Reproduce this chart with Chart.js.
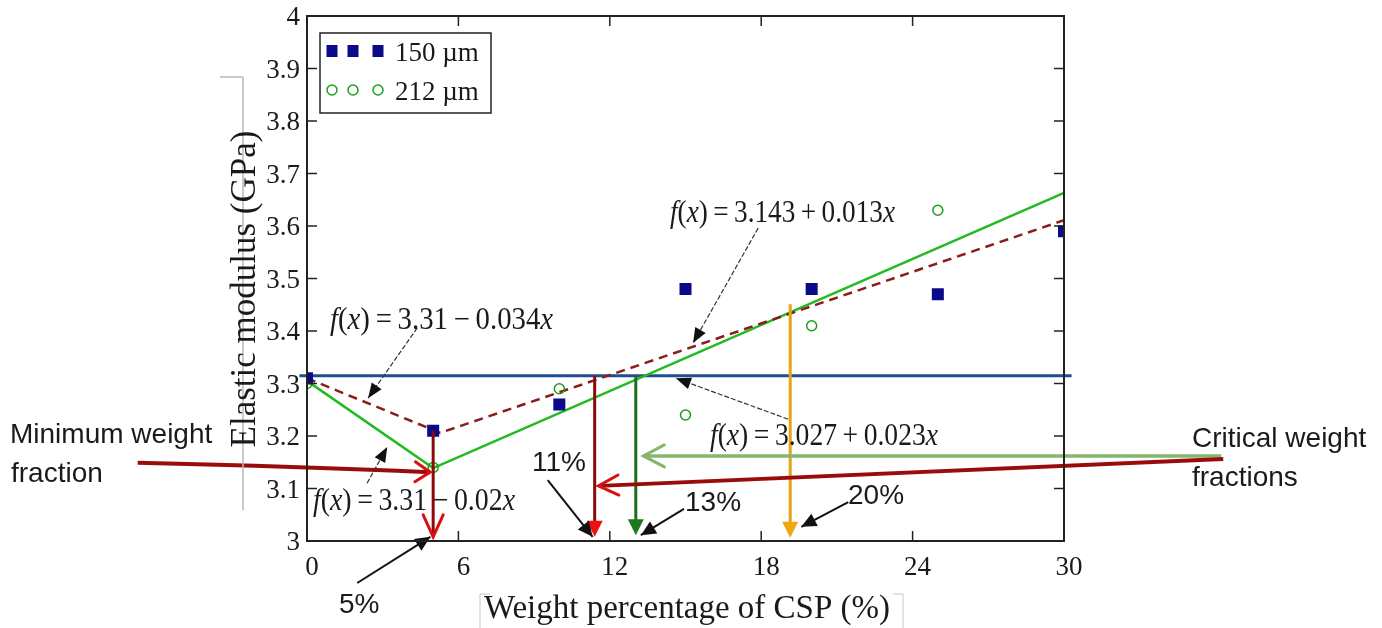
<!DOCTYPE html>
<html>
<head>
<meta charset="utf-8">
<script src="https://cdn.jsdelivr.net/npm/chart.js@4.4.1/dist/chart.umd.min.js"></script>
<style>
html, body { margin: 0; padding: 0; background: #fff; }
#wrap { width: 1382px; height: 628px; }
</style>
</head>
<body>
<div id="wrap"><canvas id="myChart" width="1382" height="628"></canvas></div>
<script>
// weight percentage of CSP and measured elastic modulus (GPa)
const weightPct150 = [0, 5, 10, 15, 20, 25, 30];
const modulus150 = [3.31, 3.21, 3.26, 3.48, 3.48, 3.47, 3.59];
const weightPct212 = [0, 5, 10, 15, 20, 25];
const modulus212 = [3.30, 3.14, 3.29, 3.24, 3.41, 3.63];

// piecewise linear fits
const fit150X = [0, 5.28, 30];
const fit150Y = [3.31, 3.206, 3.611];
const fit212X = [0, 5, 30];
const fit212Y = [3.305, 3.139, 3.663];

// neat matrix modulus level
const neatX = [-0.3, 30.3];
const neatY = [3.315, 3.315];

// weight fractions marked by drop arrows (5%, 11%, 13%, 20%)
const dropX = [5, 11.4, 13.03, 19.15];
const dropTop = [3.21, 3.315, 3.315, 3.451];

const xTicks = [0, 6, 12, 18, 24, 30];
const xTickLabels = ['0', '6', '12', '18', '24', '30'];
const yTicks = [3, 3.1, 3.2, 3.3, 3.4, 3.5, 3.6, 3.7, 3.8, 3.9, 4];
const yTickLabels = ['3', '3.1', '3.2', '3.3', '3.4', '3.5', '3.6', '3.7', '3.8', '3.9', '4'];

const SERIF = '"Liberation Serif", "Times New Roman", serif';
const SANS = '"Liberation Sans", Arial, sans-serif';

function toPoints(xs, ys) {
    return xs.map((x, i) => ({ x: x, y: ys[i] }));
}

function seg(ctx, x1, y1, x2, y2, color, width, dash) {
    ctx.save();
    ctx.strokeStyle = color;
    ctx.lineWidth = width;
    ctx.setLineDash(dash || []);
    ctx.beginPath();
    ctx.moveTo(x1, y1);
    ctx.lineTo(x2, y2);
    ctx.stroke();
    ctx.restore();
}

// open "V" arrow head at (tx, ty), pointing away from (fx, fy)
function openHead(ctx, tx, ty, fx, fy, len, half, color, width) {
    const a = Math.atan2(ty - fy, tx - fx);
    const bx = tx - len * Math.cos(a), by = ty - len * Math.sin(a);
    const nx = -Math.sin(a) * half, ny = Math.cos(a) * half;
    ctx.save();
    ctx.strokeStyle = color;
    ctx.lineWidth = width;
    ctx.lineCap = 'round';
    ctx.beginPath();
    ctx.moveTo(bx + nx, by + ny);
    ctx.lineTo(tx, ty);
    ctx.lineTo(bx - nx, by - ny);
    ctx.stroke();
    ctx.restore();
}

function filledHead(ctx, tx, ty, fx, fy, len, half, color) {
    const a = Math.atan2(ty - fy, tx - fx);
    const bx = tx - len * Math.cos(a), by = ty - len * Math.sin(a);
    const nx = -Math.sin(a) * half, ny = Math.cos(a) * half;
    ctx.save();
    ctx.fillStyle = color;
    ctx.beginPath();
    ctx.moveTo(tx, ty);
    ctx.lineTo(bx + nx, by + ny);
    ctx.lineTo(bx - nx, by - ny);
    ctx.closePath();
    ctx.fill();
    ctx.restore();
}

// f(x) = ... with italic f and x, squeezed to a given width
function drawFx(ctx, x, y, rest, size, width) {
    const parts = [['f', 'italic '], ['(', ''], ['x', 'italic '], [')', ''], ['\u2009=\u2009' + rest, ''], ['x', 'italic ']];
    let total = 0;
    parts.forEach(([t, st]) => {
        ctx.font = st + size + 'px ' + SERIF;
        total += ctx.measureText(t).width;
    });
    ctx.save();
    ctx.translate(x, y);
    ctx.scale(width / total, 1);
    ctx.fillStyle = '#1a1a1a';
    ctx.textAlign = 'left';
    ctx.textBaseline = 'alphabetic';
    let cx = 0;
    parts.forEach(([t, st]) => {
        ctx.font = st + size + 'px ' + SERIF;
        ctx.fillText(t, cx, 0);
        cx += ctx.measureText(t).width;
    });
    ctx.restore();
}

function text(ctx, str, x, y, font, align, color) {
    ctx.save();
    ctx.font = font;
    ctx.fillStyle = color || '#1a1a1a';
    ctx.textAlign = align || 'left';
    ctx.textBaseline = 'alphabetic';
    ctx.fillText(str, x, y);
    ctx.restore();
}

const decorPlugin = {
    id: 'decor',
    afterDatasetsDraw(chart) {
        const ctx = chart.ctx;
        const xs = chart.scales.x, ys = chart.scales.y;
        const X = v => xs.getPixelForValue(v);
        const Y = v => ys.getPixelForValue(v);
        const area = chart.chartArea;

        // drop arrows down to the x axis
        const tipY = Y(3.008);
        // 5%: dark red shaft, open red head
        seg(ctx, X(dropX[0]), Y(dropTop[0]), X(dropX[0]), tipY, '#8b0a0a', 3);
        openHead(ctx, X(dropX[0]), tipY, X(dropX[0]), Y(dropTop[0]), 22, 10, '#d81010', 3);
        // 11%: dark red shaft, filled red head
        seg(ctx, X(dropX[1]), Y(dropTop[1]), X(dropX[1]), tipY - 14, '#8b0a0a', 3);
        filledHead(ctx, X(dropX[1]), tipY, X(dropX[1]), Y(dropTop[1]), 16, 8, '#f01010');
        // 13%: dark green
        seg(ctx, X(dropX[2]), Y(dropTop[2]), X(dropX[2]), tipY - 14, '#1b6e1b', 3);
        filledHead(ctx, X(dropX[2]), Y(3.011), X(dropX[2]), Y(dropTop[2]), 16, 8, '#1b7a1b');
        // 20%: orange
        seg(ctx, X(dropX[3]), Y(dropTop[3]), X(dropX[3]), tipY - 14, '#e8a215', 3);
        filledHead(ctx, X(dropX[3]), Y(3.006), X(dropX[3]), Y(dropTop[3]), 16, 8, '#f0a810');

        // minimum weight fraction arrow
        ctx.save();
        ctx.strokeStyle = '#9a0c0c';
        ctx.lineWidth = 4;
        ctx.beginPath();
        ctx.moveTo(X(-6.71), Y(3.149));
        ctx.quadraticCurveTo(X(-0.3), Y(3.142), X(4.88), Y(3.131));
        ctx.stroke();
        ctx.restore();
        openHead(ctx, X(4.88), Y(3.131), X(2), Y(3.135), 15, 10, '#d81010', 3);

        // critical weight fraction arrows
        seg(ctx, X(36.23), Y(3.162), X(13.4), Y(3.162), '#86b56c', 3.5);
        openHead(ctx, X(13.33), Y(3.162), X(20), Y(3.162), 21, 11, '#86b56c', 3);
        seg(ctx, X(36.31), Y(3.156), X(11.6), Y(3.105), '#9a0c0c', 4);
        openHead(ctx, X(11.55), Y(3.105), X(20), Y(3.122), 20, 10, '#d81010', 3);

        // thin pointers to the fit equations
        const thin = (x1, y1, x2, y2) => {
            seg(ctx, X(x1), Y(y1), X(x2), Y(y2), '#333', 1.2, [5, 2]);
            filledHead(ctx, X(x2), Y(y2), X(x1), Y(y1), 15, 6, '#111');
        };
        thin(4.37, 3.406, 2.42, 3.272);
        thin(2.38, 3.110, 3.18, 3.179);
        thin(17.88, 3.596, 15.30, 3.377);
        thin(19.07, 3.232, 14.62, 3.310);

        // pointers to the percentage labels
        const bold = (x1, y1, x2, y2) => {
            seg(ctx, X(x1), Y(y1), X(x2), Y(y2), '#111', 2);
            filledHead(ctx, X(x2), Y(y2), X(x1), Y(y1), 15, 7, '#111');
        };
        bold(1.99, 2.920, 4.89, 3.008);
        bold(9.54, 3.116, 11.32, 3.008);
        bold(14.94, 3.061, 13.23, 3.011);
        bold(21.45, 3.074, 19.59, 3.027);

        // frame
        ctx.save();
        ctx.strokeStyle = '#222';
        ctx.lineWidth = 2;
        ctx.strokeRect(area.left, area.top, area.right - area.left, area.bottom - area.top);
        ctx.restore();

        // inward ticks on all four sides
        const tl = 10;
        xTicks.forEach(v => {
            const p = X(v);
            seg(ctx, p, area.bottom, p, area.bottom - tl, '#222', 1.5);
            seg(ctx, p, area.top, p, area.top + tl, '#222', 1.5);
        });
        yTicks.forEach(v => {
            const p = Y(v);
            seg(ctx, area.left, p, area.left + tl, p, '#222', 1.5);
            seg(ctx, area.right, p, area.right - tl, p, '#222', 1.5);
        });

        // tick labels
        ctx.save();
        ctx.font = '27px ' + SERIF;
        ctx.fillStyle = '#1a1a1a';
        ctx.textBaseline = 'middle';
        ctx.textAlign = 'center';
        xTicks.forEach((v, i) => ctx.fillText(xTickLabels[i], X(v) + 5, area.bottom + 27));
        ctx.textAlign = 'right';
        yTicks.forEach((v, i) => ctx.fillText(yTickLabels[i], area.left - 7, Y(v) + 2));
        ctx.restore();

        // y axis title with its grey bracket
        seg(ctx, 220, 77, 243, 77, '#b8b8b8', 1.5);
        seg(ctx, 243, 77, 243, 510, '#b8b8b8', 1.5);
        ctx.save();
        ctx.translate(246, 289);
        ctx.rotate(-Math.PI / 2);
        ctx.font = '35px ' + SERIF;
        ctx.fillStyle = '#1a1a1a';
        ctx.textAlign = 'center';
        ctx.textBaseline = 'middle';
        ctx.fillText('Elastic modulus (GPa)', 0, 0);
        ctx.restore();

        // x axis title with its grey box edges
        seg(ctx, 480, 594, 480, 628, '#cfcfcf', 1.2);
        seg(ctx, 480, 594, 490, 594, '#cfcfcf', 1.2);
        seg(ctx, 903, 594, 903, 628, '#cfcfcf', 1.2);
        seg(ctx, 893, 594, 903, 594, '#cfcfcf', 1.2);
        text(ctx, 'Weight percentage of CSP (%)', 687, 618, '33px ' + SERIF, 'center');

        // fit equations
        drawFx(ctx, 330, 329, '3.31\u2009\u2212\u20090.034', 31, 223);
        drawFx(ctx, 313, 510, '3.31\u2009\u2212\u20090.02', 31, 202);
        drawFx(ctx, 670, 222, '3.143\u2009+\u20090.013', 31, 225);
        drawFx(ctx, 710, 445, '3.027\u2009+\u20090.023', 31, 228);

        // percentage labels
        const pf = '28px ' + SANS;
        text(ctx, '5%', 339, 613, pf);
        text(ctx, '11%', 532, 471, pf);
        text(ctx, '13%', 685, 511, pf);
        text(ctx, '20%', 848, 504, pf);

        // side notes
        const nf = '28px ' + SANS;
        text(ctx, 'Minimum weight', 10, 443, nf);
        text(ctx, 'fraction', 11, 482, nf);
        text(ctx, 'Critical weight', 1192, 447, nf);
        text(ctx, 'fractions', 1192, 486, nf);

        // legend
        const lx = area.left + 13, ly = area.top + 17;
        ctx.save();
        ctx.fillStyle = '#fff';
        ctx.fillRect(lx, ly, 171, 80);
        ctx.strokeStyle = '#222';
        ctx.lineWidth = 1.5;
        ctx.strokeRect(lx, ly, 171, 80);
        [12, 33, 58].forEach(dx => {
            ctx.fillStyle = '#0b0b8a';
            ctx.fillRect(lx + dx - 5.5, ly + 12, 11, 12);
            ctx.strokeStyle = '#1e9e1e';
            ctx.lineWidth = 1.5;
            ctx.beginPath();
            ctx.arc(lx + dx, ly + 57, 5, 0, Math.PI * 2);
            ctx.stroke();
        });
        ctx.restore();
        text(ctx, '150 \u00b5m', lx + 75, ly + 28, '27px ' + SERIF);
        text(ctx, '212 \u00b5m', lx + 75, ly + 67, '27px ' + SERIF);
    }
};

const ctx = document.getElementById('myChart').getContext('2d');
window.myChartInstance = new Chart(ctx, {
    type: 'scatter',
    data: {
        datasets: [
            {
                label: '150 \u00b5m',
                data: toPoints(weightPct150, modulus150),
                pointStyle: 'rect',
                pointRadius: 8.5,
                backgroundColor: '#0b0b8a',
                borderColor: '#0b0b8a',
                borderWidth: 0,
                clip: 0
            },
            {
                label: '212 \u00b5m',
                data: toPoints(weightPct212, modulus212),
                pointStyle: 'circle',
                pointRadius: 5,
                backgroundColor: 'rgba(0,0,0,0)',
                borderColor: '#1e9e1e',
                borderWidth: 1.5,
                clip: 0
            },
            {
                label: 'fit 150',
                data: toPoints(fit150X, fit150Y),
                showLine: true,
                pointRadius: 0,
                borderColor: '#8b1c1c',
                borderWidth: 2.5,
                borderDash: [9, 6],
                clip: 0
            },
            {
                label: 'fit 212',
                data: toPoints(fit212X, fit212Y),
                showLine: true,
                pointRadius: 0,
                borderColor: '#22bb22',
                borderWidth: 2.5,
                clip: 0
            },
            {
                label: 'neat',
                data: toPoints(neatX, neatY),
                showLine: true,
                pointRadius: 0,
                borderColor: '#1f4f8f',
                borderWidth: 3,
                clip: false
            }
        ]
    },
    options: {
        responsive: false,
        animation: false,
        devicePixelRatio: 1,
        layout: { padding: { left: 307, right: 318, top: 16, bottom: 87 } },
        plugins: { legend: { display: false }, tooltip: { enabled: false } },
        scales: {
            x: { type: 'linear', min: 0, max: 30, display: false },
            y: { type: 'linear', min: 3, max: 4, display: false }
        }
    },
    plugins: [decorPlugin]
});
</script>
</body>
</html>
